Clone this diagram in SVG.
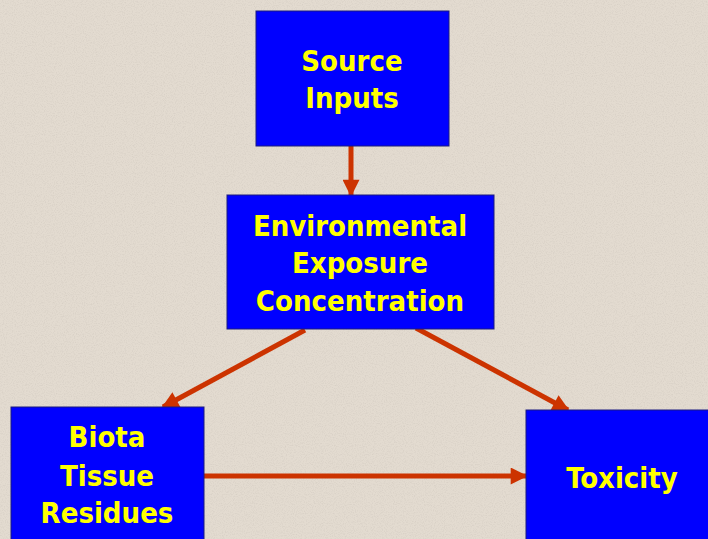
<svg xmlns="http://www.w3.org/2000/svg" width="708" height="539" viewBox="0 0 708 539">
<style>
.box{fill:#0000FF;stroke:#1a1a80;stroke-width:1}
.t{font-family:"DejaVu Sans Condensed","DejaVu Sans",sans-serif;font-weight:bold;font-size:29px;fill:#FFFF00;text-anchor:middle}
.c{stroke:#CC3300;stroke-width:5;fill:none;marker-end:url(#ah)}
</style>
<defs>
<marker id="ah" viewBox="0 0 10 10" refX="9" refY="5" markerWidth="3.6" markerHeight="3.4" orient="auto" markerUnits="strokeWidth">
<path d="M0,0 L10,5 L0,10 Z" fill="#CC3300"/>
</marker>
<filter id="grain" x="0" y="0" width="100%" height="100%">
<feTurbulence type="fractalNoise" baseFrequency="0.9" numOctaves="2" seed="3" result="n"/>
<feColorMatrix in="n" type="matrix" values="0 0 0 0 0.55  0 0 0 0 0.5  0 0 0 0 0.45  0 0 0 -2.2 1.25" result="s"/>
<feComposite in="s" in2="SourceGraphic" operator="in"/>
</filter>
</defs>
<rect width="708" height="539" fill="#E3DBD0"/>
<rect width="708" height="539" fill="#E3DBD0" filter="url(#grain)" opacity="0.35"/>
<g id="connectors">
<line class="c" x1="351" y1="146" x2="351" y2="195"/>
<line class="c" x1="305" y1="330" x2="163" y2="407"/>
<line class="c" x1="416" y1="328" x2="568" y2="410"/>
<line class="c" x1="204" y1="476" x2="526" y2="476"/>
</g>
<g id="source">
<rect class="box" x="256" y="11" width="193" height="135"/>
<text class="t" x="352" y="71">Source</text>
<text class="t" x="352" y="108">Inputs</text>
</g>
<g id="environment">
<rect class="box" x="227" y="195" width="267" height="134"/>
<text class="t" x="360" y="236">Environmental</text>
<text class="t" x="360" y="273">Exposure</text>
<text class="t" x="360" y="311">Concentration</text>
</g>
<g id="biota">
<rect class="box" x="11" y="407" width="193" height="140"/>
<text class="t" x="107" y="447">Biota</text>
<text class="t" x="107" y="486">Tissue</text>
<text class="t" x="107" y="523">Residues</text>
</g>
<g id="toxicity">
<rect class="box" x="526" y="410" width="190" height="140"/>
<text class="t" x="622" y="488">Toxicity</text>
</g>
</svg>
